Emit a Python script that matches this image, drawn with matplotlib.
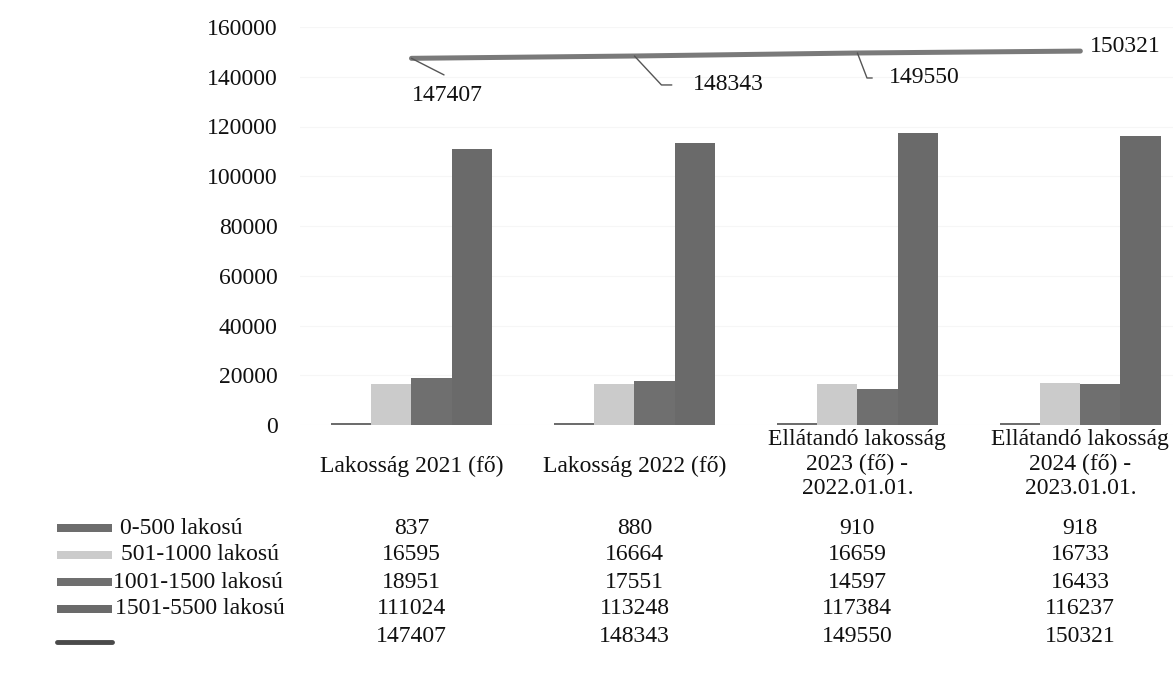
import matplotlib.pyplot as plt
import numpy as np
from matplotlib.transforms import blended_transform_factory

plt.rcParams['font.family'] = ['Liberation Serif', 'DejaVu Serif']

# data
categories = ['Lakosság 2021 (fő)', 'Lakosság 2022 (fő)',
              'Ellátandó lakosság\n2023 (fő) -\n2022.01.01.',
              'Ellátandó lakosság\n2024 (fő) -\n2023.01.01.']
series_names = ['0-500 lakosú', '501-1000 lakosú', '1001-1500 lakosú', '1501-5500 lakosú']
s_0_500 = [837, 880, 910, 918]
s_501_1000 = [16595, 16664, 16659, 16733]
s_1001_1500 = [18951, 17551, 14597, 16433]
s_1501_5500 = [111024, 113248, 117384, 116237]
total = [147407, 148343, 149550, 150321]

series = [s_0_500, s_501_1000, s_1001_1500, s_1501_5500]
colors = ['#6d6d6d', '#cbcbcb', '#6f6f6f', '#6a6a6a']
txt_color = '#111111'
fs = 17

W, H = 1173, 677
fig = plt.figure(figsize=(W / 100, H / 100), dpi=100)
ax = fig.add_axes([300 / W, 1 - 425 / H, 874 / W, 398 / H])

x = np.arange(len(categories))
bw = 0.18
for k, (vals, c) in enumerate(zip(series, colors)):
    ax.bar(x + (k - 1.5) * bw, vals, bw, color=c, linewidth=0, zorder=2)

ax.plot(x, total, color='#7a7a7a', lw=3.6, solid_capstyle='round', zorder=3)

# data labels of the line with leader lines
lbl = dict(fontsize=fs, color=txt_color, ha='center', va='center')
leader = dict(arrowstyle='-', color='#555555', lw=1.0, shrinkB=0)
ax.annotate(str(total[0]), xy=(x[0], total[0]), xytext=(0.16, 132300),
            arrowprops=dict(leader, shrinkA=6,
                            connectionstyle='angle,angleA=90,angleB=-27'), **lbl)
ax.annotate(str(total[1]), xy=(x[1], total[1]), xytext=(1.42, 136700),
            arrowprops=dict(leader, shrinkA=13,
                            connectionstyle='angle,angleA=0,angleB=-47'), **lbl)
ax.annotate(str(total[2]), xy=(x[2], total[2]), xytext=(2.30, 139500),
            arrowprops=dict(leader, shrinkA=10,
                            connectionstyle='angle,angleA=0,angleB=-69'), **lbl)
ax.text(3.2, 151960, str(total[3]), **lbl)

ax.set_xlim(-0.5, 3.42)
ax.set_ylim(0, 160000)
ax.set_yticks(np.arange(0, 160001, 20000))
ax.tick_params(axis='y', length=0, pad=16, labelsize=fs, labelcolor=txt_color)
ax.set_xticks([])
ax.grid(axis='y', color='#f6f6f6', lw=0.8, zorder=0)
for sp in ax.spines.values():
    sp.set_visible(False)

# data table below the chart
tr = blended_transform_factory(ax.transData, fig.transFigure)
def fy(py):
    return 1 - py / H

for i, cat in enumerate(categories):
    if '\n' in cat:
        ax.text(i, fy(464), cat, transform=tr, ha='center', va='center',
                fontsize=fs, linespacing=1.2, color=txt_color)
    else:
        ax.text(i, fy(466), cat, transform=tr, ha='center', va='center',
                fontsize=fs, color=txt_color)

row_y = [528, 555, 582, 609, 637]
rows = series + [total]
for r, vals in enumerate(rows):
    for i, v in enumerate(vals):
        ax.text(i, fy(row_y[r]), str(v), transform=tr, ha='center', va='center',
                fontsize=fs, color=txt_color)

text_x = [120, 121, 113, 115]
for r, name in enumerate(series_names):
    fig.patches.append(plt.Rectangle((57 / W, fy(row_y[r] + 4)), 55 / W, 8 / H,
                                     transform=fig.transFigure, color=colors[r], lw=0))
    fig.text(text_x[r] / W, fy(row_y[r]), name, ha='left', va='center',
             fontsize=fs, color=txt_color)
fig.add_artist(plt.Line2D([57 / W, 112 / W], [fy(642), fy(642)], color='#4a4a4a',
                          lw=3.5, solid_capstyle='round'))

fig.savefig('out.png', dpi=100)
